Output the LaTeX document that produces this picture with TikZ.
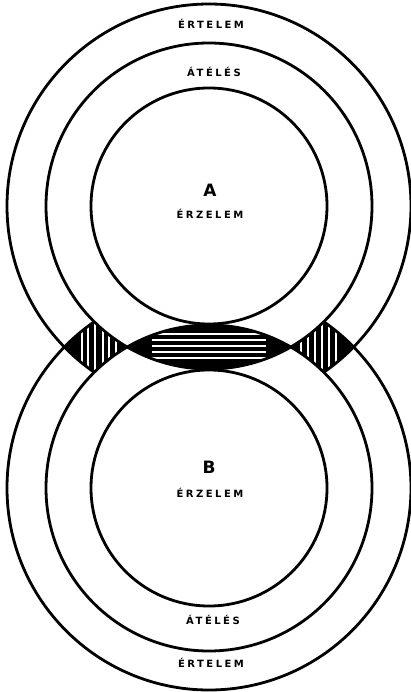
\documentclass[tikz,border=0pt]{standalone}
\usepackage{fontspec}
\newfontfamily\ringfont{DejaVu Sans}[LetterSpace=25]
\newfontfamily\capfont{DejaVu Sans}
\begin{document}
\begin{tikzpicture}[
			x=1pt, y=-1pt,
			ring line/.style={line width=2.8pt},
			stripe line/.style={white, line width=1.1pt},
			ring label/.style={font=\ringfont\bfseries\fontsize{10}{10}\selectfont, inner sep=0pt},
			cap label/.style={font=\capfont\bfseries\fontsize{17}{17}\selectfont, inner sep=0pt}
			]
			\useasboundingbox (0,0) rectangle (411,692);
			\coordinate (cA) at (209,206);
			\coordinate (cB) at (209,488);
			\newcommand{\rOut}{202}
			\newcommand{\rMid}{163}
			\newcommand{\rIn}{118}
			
			% shaded overlap: diamonds and lens
			\begin{scope}
				\clip (cA) circle (\rOut);
				\clip (cB) circle (\rOut);
				\begin{scope}[even odd rule]
					\clip (0,0) rectangle (411,692) (cA) circle (\rMid) (cB) circle (\rMid);
					\fill[black] (0,0) rectangle (411,692);
					\foreach \x in {82,88,95,103,109,116,301,308,315,322,329,336}
						\draw[stripe line] (\x,305) -- (\x,385);
					\foreach \y in {334,340,346,352,358}
						\draw[stripe line] (152,\y) -- (266,\y);
				\end{scope}
			\end{scope}
			
			% outer rings, cut off inside the other middle ring
			\begin{scope}[even odd rule]
				\clip (0,0) rectangle (411,692) (cB) circle (\rMid);
				\draw[ring line] (cA) circle (\rOut);
			\end{scope}
			\begin{scope}[even odd rule]
				\clip (0,0) rectangle (411,692) (cA) circle (\rMid);
				\draw[ring line] (cB) circle (\rOut);
			\end{scope}
			
			\draw[ring line] (cA) circle (\rMid);
			\draw[ring line] (cB) circle (\rMid);
			\draw[ring line] (cA) circle (\rIn);
			\draw[ring line] (cB) circle (\rIn);
			
			\node[ring label] (tA1) at (211,24) {ÉRTELEM};
			\node[ring label] (tA2) at (214,72) {ÁTÉLÉS};
			\node[cap label] (capA) at (210,190) {A};
			\node[ring label] (tA3) at (210,214) {ÉRZELEM};
			\node[cap label] (capB) at (209,467) {B};
			\node[ring label] (tB3) at (210,493) {ÉRZELEM};
			\node[ring label] (tB2) at (213,620) {ÁTÉLÉS};
			\node[ring label] (tB1) at (211,663) {ÉRTELEM};
		\end{tikzpicture}
\end{document}
